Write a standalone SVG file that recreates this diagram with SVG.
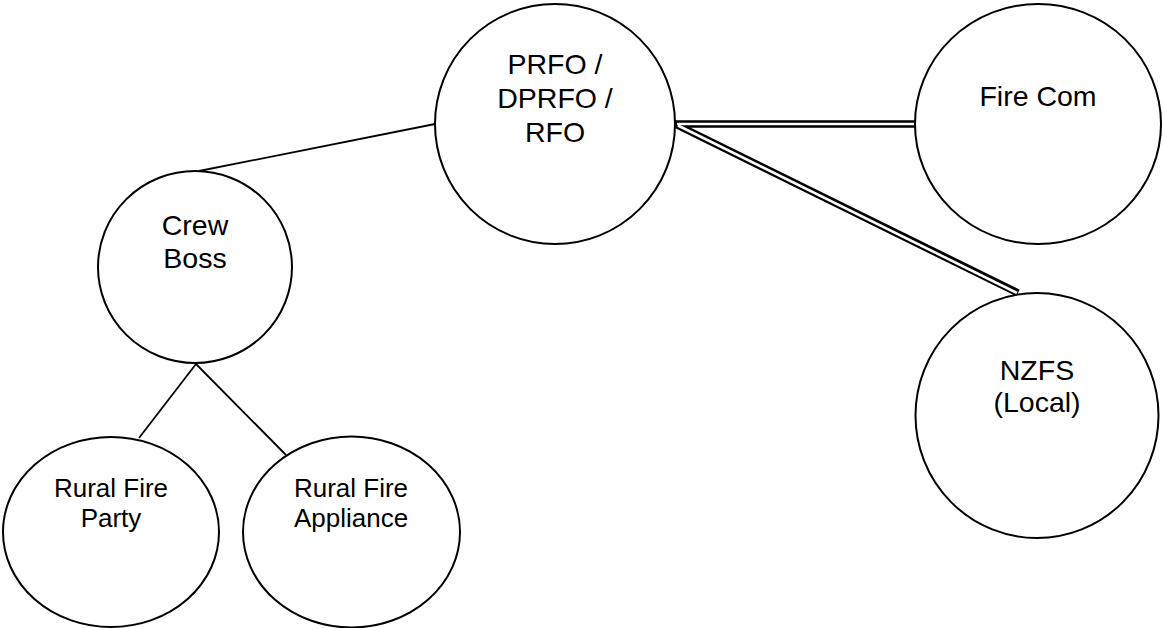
<svg xmlns="http://www.w3.org/2000/svg" width="1163" height="628" viewBox="0 0 1163 628">
  <style>
    .node { fill: #ffffff; stroke: #000000; stroke-width: 2; }
    .label { font-family: "Liberation Sans", Arial, sans-serif; font-size: 28.5px; fill: #000000; text-anchor: middle; }
    .small { font-size: 26px; }
    .link { stroke: #000000; stroke-width: 1.8; fill: none; }
    .dbl-outer { stroke: #000000; stroke-width: 7.5; fill: none; }
    .dbl-inner { stroke: #ffffff; stroke-width: 2.6; fill: none; }
  </style>

  <!-- connectors -->
  <g id="connectors">
    <line class="link" x1="435" y1="124" x2="199" y2="171"/>
    <line class="link" x1="196" y1="364" x2="139" y2="438"/>
    <line class="link" x1="196" y1="364" x2="286" y2="455"/>
    <!-- double lines: PRFO to Fire Com and NZFS -->
    <line class="dbl-outer" x1="675" y1="124" x2="915" y2="124"/>
    <line class="dbl-outer" x1="675" y1="124" x2="1018" y2="293"/>
    <line class="dbl-inner" x1="677" y1="124" x2="915" y2="124"/>
    <line class="dbl-inner" x1="678" y1="125.5" x2="1017" y2="293"/>
  </g>

  <g id="node-prfo">
    <ellipse class="node" cx="555" cy="124" rx="120" ry="120"/>
    <text class="label" x="555" y="74">PRFO /</text>
    <text class="label" x="555" y="108">DPRFO /</text>
    <text class="label" x="555" y="142">RFO</text>
  </g>

  <g id="node-firecom">
    <ellipse class="node" cx="1038" cy="124" rx="123" ry="120"/>
    <text class="label" x="1038" y="106">Fire Com</text>
  </g>

  <g id="node-crewboss">
    <ellipse class="node" cx="195" cy="267" rx="97" ry="96"/>
    <text class="label" x="195" y="235">Crew</text>
    <text class="label" x="195" y="268">Boss</text>
  </g>

  <g id="node-nzfs">
    <ellipse class="node" cx="1037" cy="415.5" rx="121.5" ry="122.5"/>
    <text class="label" x="1037" y="380">NZFS</text>
    <text class="label" x="1037" y="412">(Local)</text>
  </g>

  <g id="node-party">
    <ellipse class="node" cx="111" cy="532" rx="108" ry="95"/>
    <text class="label small" x="111" y="497">Rural Fire</text>
    <text class="label small" x="111" y="527">Party</text>
  </g>

  <g id="node-appliance">
    <ellipse class="node" cx="351.5" cy="532" rx="108.5" ry="95.5"/>
    <text class="label small" x="351" y="497">Rural Fire</text>
    <text class="label small" x="351" y="527">Appliance</text>
  </g>
</svg>
